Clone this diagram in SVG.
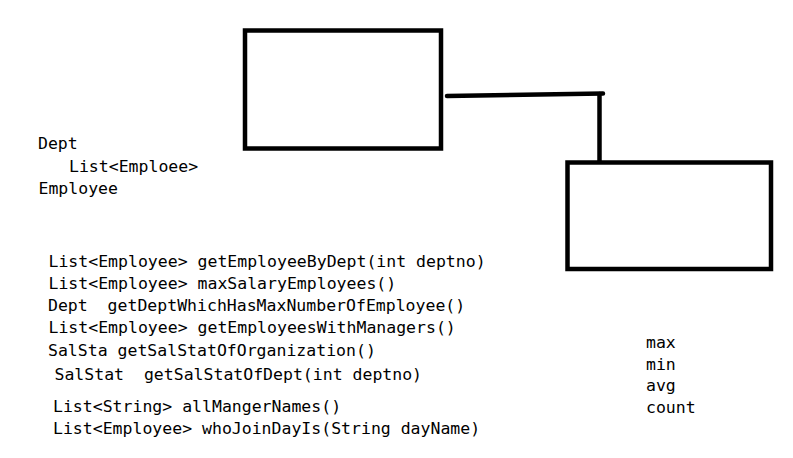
<svg xmlns="http://www.w3.org/2000/svg" width="793" height="458" viewBox="0 0 793 458">
<style>
.t{font-family:"DejaVu Sans Mono","Liberation Mono",monospace;font-size:16.5px;fill:#000}
.box{fill:none;stroke:#000;stroke-width:4.5}
.conn{fill:none;stroke:#000;stroke-width:4.5;stroke-linecap:round}
</style>
<rect width="793" height="458" fill="#fff"/>
<g id="node-box1"><rect class="box" x="245" y="30.5" width="196" height="118"/></g>
<g id="node-box2"><rect class="box" x="567.5" y="162.5" width="203.5" height="106.5"/></g>
<g id="connectors">
<path class="conn" d="M447 96 L603 93.5"/>
<path class="conn" d="M599.5 94 L599.5 161" stroke-linecap="butt"/>
</g>
<g id="labels">
<text class="t" x="38" y="149">Dept</text>
<text class="t" x="69" y="171.5">List&lt;Emploee&gt;</text>
<text class="t" x="38.5" y="194">Employee</text>
<text class="t" x="48.5" y="267">List&lt;Employee&gt; getEmployeeByDept(int deptno)</text>
<text class="t" x="48.5" y="289">List&lt;Employee&gt; maxSalaryEmployees()</text>
<text class="t" x="48" y="311" xml:space="preserve">Dept  getDeptWhichHasMaxNumberOfEmployee()</text>
<text class="t" x="48.5" y="333">List&lt;Employee&gt; getEmployeesWithManagers()</text>
<text class="t" x="48" y="355.5">SalSta getSalStatOfOrganization()</text>
<text class="t" x="54.5" y="380" xml:space="preserve">SalStat  getSalStatOfDept(int deptno)</text>
<text class="t" x="53" y="411.5">List&lt;String&gt; allMangerNames()</text>
<text class="t" x="53" y="434">List&lt;Employee&gt; whoJoinDayIs(String dayName)</text>
<text class="t" x="646" y="348">max</text>
<text class="t" x="646" y="369.5">min</text>
<text class="t" x="646" y="391">avg</text>
<text class="t" x="646" y="412.5">count</text>
</g>
</svg>
